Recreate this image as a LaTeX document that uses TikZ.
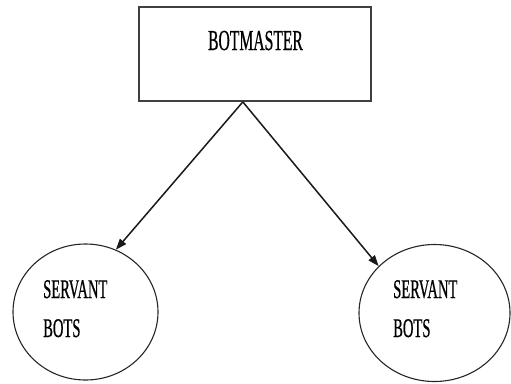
\documentclass[tikz,border=0pt]{standalone}
\usepackage{fontspec}
\setmainfont[FakeStretch=0.54,FakeBold=0.6]{Liberation Serif}
\usetikzlibrary{shapes.geometric,arrows.meta,calc}
\begin{document}
\begin{tikzpicture}[x=1pt,y=1pt,
  boxstyle/.style={draw=black!75,line width=1.8pt,minimum width=232pt,minimum height=94pt,inner sep=0pt},
  ellstyle/.style={draw=black!85,line width=1.1pt,ellipse,inner sep=0pt},
  lbl/.style={inner sep=0pt,font=\fontsize{29}{39}\selectfont,text=black},
  arr/.style={draw=black!90,line width=1.5pt,-{Triangle[length=11pt,width=8pt]}}]
\useasboundingbox (0,0) rectangle (511,-383);
\node[boxstyle] (bm) at (255,-54) {};
\node[lbl,anchor=base] (bmt) at (255.5,-50) {BOTMASTER};
\node[ellstyle,minimum width=145pt,minimum height=136pt] (sl) at (85.5,-312) {};
\node[ellstyle,minimum width=151pt,minimum height=137pt] (sr) at (434.5,-313) {};
\node[lbl,anchor=base west,font=\fontsize{27}{39}\selectfont] (slt1) at (43,-298) {SERVANT};
\node[lbl,anchor=base west,font=\fontsize{27}{39}\selectfont] (slt2) at (43,-337) {BOTS};
\node[lbl,anchor=base west,font=\fontsize{27}{39}\selectfont] (srt1) at (393,-298) {SERVANT};
\node[lbl,anchor=base west,font=\fontsize{27}{39}\selectfont] (srt2) at (393,-337) {BOTS};
\coordinate (apex) at ($(bm.south west)!0.448!(bm.south east)$);
\draw[arr] (apex) -- (sl.64);
\draw[arr] (apex) -- (sr.140);
\end{tikzpicture}
\end{document}
